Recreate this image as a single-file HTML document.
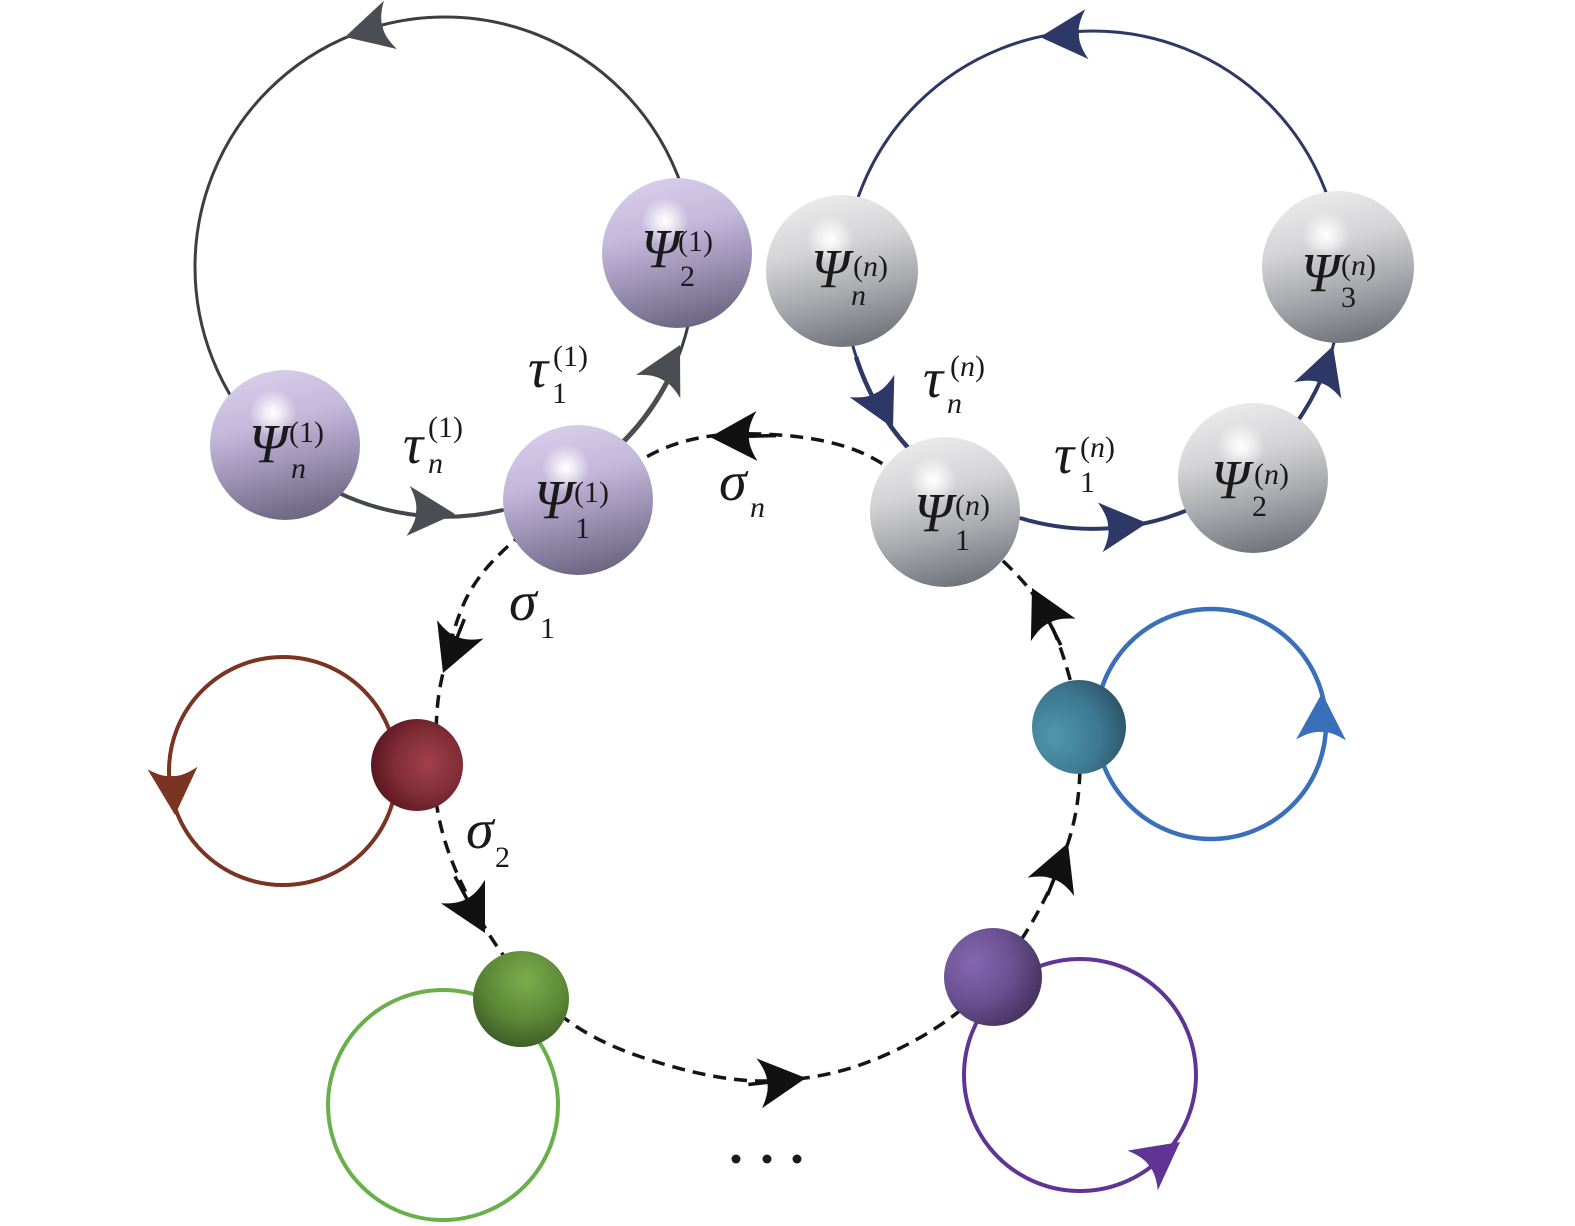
<!DOCTYPE html>
<html>
<head>
<meta charset="utf-8">
<style>
  html,body{margin:0;padding:0;background:#fff;}
  svg{display:block;}
  .big{font-family:"Liberation Serif",serif;font-style:italic;font-weight:400;font-size:55px;fill:#1a1a1a;}
  .gr{font-family:"Liberation Serif",serif;font-style:italic;font-weight:400;font-size:56px;fill:#1a1a1a;}
  .sc{font-family:"Liberation Serif",serif;font-size:30px;fill:#1a1a1a;}
  .it{font-style:italic;}
</style>
</head>
<body>
<svg width="1575" height="1226" viewBox="0 0 1575 1226" xmlns="http://www.w3.org/2000/svg">
  <defs>
    <path id="ah" d="M0,0 L-47,-25 Q-38,-10 -39,0 Q-38,10 -47,25 Z"/>
    <linearGradient id="lav" x1="0.35" y1="0" x2="0.6" y2="1">
      <stop offset="0" stop-color="#d8cdea"/>
      <stop offset="0.35" stop-color="#c3b7da"/>
      <stop offset="0.65" stop-color="#9b91b3"/>
      <stop offset="1" stop-color="#6a6580"/>
    </linearGradient>
    <linearGradient id="gry" x1="0.35" y1="0" x2="0.6" y2="1">
      <stop offset="0" stop-color="#ebebec"/>
      <stop offset="0.35" stop-color="#d3d3d5"/>
      <stop offset="0.65" stop-color="#a8a9ad"/>
      <stop offset="1" stop-color="#6f727a"/>
    </linearGradient>
    <radialGradient id="hl" cx="0.5" cy="0.5" r="0.5">
      <stop offset="0" stop-color="#ffffff" stop-opacity="1"/>
      <stop offset="0.3" stop-color="#ffffff" stop-opacity="0.75"/>
      <stop offset="1" stop-color="#ffffff" stop-opacity="0"/>
    </radialGradient>
    <radialGradient id="red" cx="0.62" cy="0.48" r="0.6">
      <stop offset="0" stop-color="#a2414a"/>
      <stop offset="0.6" stop-color="#802d37"/>
      <stop offset="1" stop-color="#5e1822"/>
    </radialGradient>
    <radialGradient id="grn" cx="0.55" cy="0.3" r="0.7">
      <stop offset="0" stop-color="#7dab4d"/>
      <stop offset="0.6" stop-color="#5c8837"/>
      <stop offset="1" stop-color="#3e5f27"/>
    </radialGradient>
    <radialGradient id="pur" cx="0.3" cy="0.35" r="0.75">
      <stop offset="0" stop-color="#8568b0"/>
      <stop offset="0.55" stop-color="#6a5091"/>
      <stop offset="1" stop-color="#45325e"/>
    </radialGradient>
    <radialGradient id="tea" cx="0.25" cy="0.6" r="0.8">
      <stop offset="0" stop-color="#4f97ad"/>
      <stop offset="0.6" stop-color="#3c7890"/>
      <stop offset="1" stop-color="#2c5266"/>
    </radialGradient>
  </defs>

  <rect width="1575" height="1226" fill="#fff"/>

  <!-- Gray loop -->
  <circle cx="445" cy="267" r="250" fill="none" stroke="#3c3e41" stroke-width="3"/>
  <path d="M 337 492 A 250 250 0 0 0 503 510" fill="none" stroke="#44474b" stroke-width="4"/>
  <path d="M 618 447 A 250 250 0 0 0 672 372" fill="none" stroke="#4a4d52" stroke-width="5"/>

  <!-- Navy loop -->
  <circle cx="1093" cy="280" r="249" fill="none" stroke="#2d3867" stroke-width="3"/>
  <path d="M 856 357 A 249 249 0 0 0 912 452" fill="none" stroke="#2d3867" stroke-width="4.5"/>
  <path d="M 1020 518 A 249 249 0 0 0 1190 509" fill="none" stroke="#2d3867" stroke-width="4"/>
  <path d="M 1297 422 A 249 249 0 0 0 1325 370" fill="none" stroke="#2d3867" stroke-width="4"/>

  <!-- Colored loops -->
  <circle cx="283" cy="771" r="114" fill="none" stroke="#7a3421" stroke-width="4"/>
  <circle cx="443" cy="1105" r="115" fill="none" stroke="#69b04a" stroke-width="4"/>
  <circle cx="1080" cy="1075" r="116" fill="none" stroke="#5f3494" stroke-width="4"/>
  <circle cx="1211" cy="724" r="115" fill="none" stroke="#3a6fba" stroke-width="4.5"/>

  <!-- Dashed main loop -->
  <path d="M 578 500 C 552.2 515.7, 533.3 524.2, 515 540 S 480 572.8, 468 595 S 448.3 650.5, 443 673 S 437 707.7, 436 730 S 433 782, 437 807 S 448.3 854.5, 460 880 S 488 935.8, 507 960 S 548.5 1007.8, 574 1025 S 629 1053.7, 660 1063 S 726.7 1080.7, 760 1081 S 827.2 1076.3, 860 1065 S 929.8 1034.3, 957 1013 S 1004.5 965.3, 1023 937 S 1058.5 872.5, 1068 843 S 1080 788.5, 1080 760 S 1076.3 700.3, 1068 672 S 1050.5 616.7, 1030 590 S 973.3 535, 945 512 S 890.8 465, 860 452 S 791.7 435, 760 434 S 700.3 435, 670 446 S 603.8 484.3, 578 500 Z"
        fill="none" stroke="#151515" stroke-width="3.5" stroke-dasharray="13 8"/>

  <!-- Arrowheads: gray -->
  <use href="#ah" transform="translate(345,37) rotate(165)" fill="#4a4d52"/>
  <use href="#ah" transform="translate(455,514) rotate(3.8)" fill="#4a4d52"/>
  <use href="#ah" transform="translate(680,345) rotate(-62.3)" fill="#4a4d52"/>
  <!-- navy -->
  <use href="#ah" transform="translate(1040,37) rotate(176.5)" fill="#2d3867"/>
  <use href="#ah" transform="translate(893,428) rotate(63.4)" fill="#2d3867"/>
  <use href="#ah" transform="translate(1147,523) rotate(-5.4)" fill="#2d3867"/>
  <use href="#ah" transform="translate(1333,346) rotate(-71)" fill="#2d3867"/>
  <!-- dashed-loop arrows -->
  <g transform="translate(443,673) rotate(111.6)" fill="#111">
    <use href="#ah"/><line x1="-38" y1="0" x2="-58" y2="0" stroke="#111" stroke-width="3.5"/>
  </g>
  <g transform="translate(485,933) rotate(62)" fill="#111">
    <use href="#ah"/><line x1="-38" y1="0" x2="-64" y2="0" stroke="#111" stroke-width="3.5"/>
  </g>
  <g transform="translate(806,1078) rotate(-6.4)" fill="#111">
    <use href="#ah"/><line x1="-38" y1="0" x2="-58" y2="0" stroke="#111" stroke-width="3.5"/>
  </g>
  <g transform="translate(1068,843) rotate(-68.6)" fill="#111">
    <use href="#ah"/><line x1="-38" y1="0" x2="-56" y2="0" stroke="#111" stroke-width="3.5"/>
  </g>
  <g transform="translate(1032,588) rotate(-116.8)" fill="#111">
    <use href="#ah"/><line x1="-38" y1="0" x2="-64" y2="0" stroke="#111" stroke-width="3.5"/>
  </g>
  <g transform="translate(710,437) rotate(178.8)" fill="#111">
    <use href="#ah"/><line x1="-38" y1="0" x2="-66" y2="0" stroke="#111" stroke-width="3.5"/>
  </g>
  <!-- colored arrows -->
  <use href="#ah" transform="translate(175,815) rotate(87)" fill="#7a3421"/>
  <use href="#ah" transform="translate(1322,693) rotate(-88.8)" fill="#3a6fba"/>
  <use href="#ah" transform="translate(1180,1142) rotate(-37.3)" fill="#5f3494"/>

  <!-- Big lavender spheres -->
  <g>
    <circle cx="285" cy="445" r="75" fill="url(#lav)"/>
    <circle cx="273" cy="413" r="24" fill="url(#hl)"/>
    <circle cx="578" cy="500" r="75" fill="url(#lav)"/>
    <circle cx="566" cy="468" r="24" fill="url(#hl)"/>
    <circle cx="677" cy="253" r="75" fill="url(#lav)"/>
    <circle cx="665" cy="221" r="24" fill="url(#hl)"/>
  </g>
  <!-- Big gray spheres -->
  <g>
    <circle cx="842" cy="271" r="76" fill="url(#gry)"/>
    <circle cx="830" cy="239" r="24" fill="url(#hl)"/>
    <circle cx="945" cy="512" r="75" fill="url(#gry)"/>
    <circle cx="933" cy="480" r="24" fill="url(#hl)"/>
    <circle cx="1253" cy="478" r="75" fill="url(#gry)"/>
    <circle cx="1241" cy="446" r="24" fill="url(#hl)"/>
    <circle cx="1338" cy="267" r="76" fill="url(#gry)"/>
    <circle cx="1326" cy="235" r="24" fill="url(#hl)"/>
  </g>
  <!-- small spheres -->
  <circle cx="417" cy="765" r="46" fill="url(#red)"/>
  <circle cx="521" cy="999" r="48" fill="url(#grn)"/>
  <circle cx="993" cy="977" r="49" fill="url(#pur)"/>
  <circle cx="1079" cy="727" r="47" fill="url(#tea)"/>

  <!-- Dots -->
  <circle cx="736" cy="1159" r="4.5" fill="#1a1a1a"/>
  <circle cx="767" cy="1159" r="4.5" fill="#1a1a1a"/>
  <circle cx="797" cy="1159" r="4.5" fill="#1a1a1a"/>

  <!-- Sphere labels -->
  <text class="big" x="249" y="462">Ψ</text>
  <text class="sc" x="289" y="442">(1)</text>
  <text class="sc it" x="291" y="478">n</text>

  <text class="big" x="534" y="518">Ψ</text>
  <text class="sc" x="574" y="502">(1)</text>
  <text class="sc" x="575" y="538">1</text>

  <text class="big" x="641" y="267">Ψ</text>
  <text class="sc" x="678" y="251">(1)</text>
  <text class="sc" x="680" y="286">2</text>

  <text class="big" x="811" y="287">Ψ</text>
  <text class="sc" x="853" y="276">(<tspan class="it">n</tspan>)</text>
  <text class="sc it" x="851" y="305">n</text>

  <text class="big" x="914" y="531">Ψ</text>
  <text class="sc" x="955" y="515">(<tspan class="it">n</tspan>)</text>
  <text class="sc" x="955" y="550">1</text>

  <text class="big" x="1211" y="498">Ψ</text>
  <text class="sc" x="1254" y="484">(<tspan class="it">n</tspan>)</text>
  <text class="sc" x="1252" y="516">2</text>

  <text class="big" x="1301" y="291">Ψ</text>
  <text class="sc" x="1341" y="275">(<tspan class="it">n</tspan>)</text>
  <text class="sc" x="1341" y="307">3</text>

  <!-- tau labels -->
  <text class="gr" x="403" y="463">τ</text>
  <text class="sc" x="428" y="437">(1)</text>
  <text class="sc it" x="428" y="473">n</text>

  <text class="gr" x="528" y="387">τ</text>
  <text class="sc" x="553" y="366">(1)</text>
  <text class="sc" x="552" y="403">1</text>

  <text class="gr" x="923" y="397">τ</text>
  <text class="sc" x="950" y="376">(<tspan class="it">n</tspan>)</text>
  <text class="sc it" x="947" y="413">n</text>

  <text class="gr" x="1054" y="473">τ</text>
  <text class="sc" x="1080" y="457">(<tspan class="it">n</tspan>)</text>
  <text class="sc" x="1080" y="492">1</text>

  <!-- sigma labels -->
  <text class="gr" x="719" y="500">σ</text>
  <text class="sc it" x="750" y="517">n</text>

  <text class="gr" x="509" y="620">σ</text>
  <text class="sc" x="540" y="638">1</text>

  <text class="gr" x="466" y="848">σ</text>
  <text class="sc" x="495" y="867">2</text>
</svg>
</body>
</html>
